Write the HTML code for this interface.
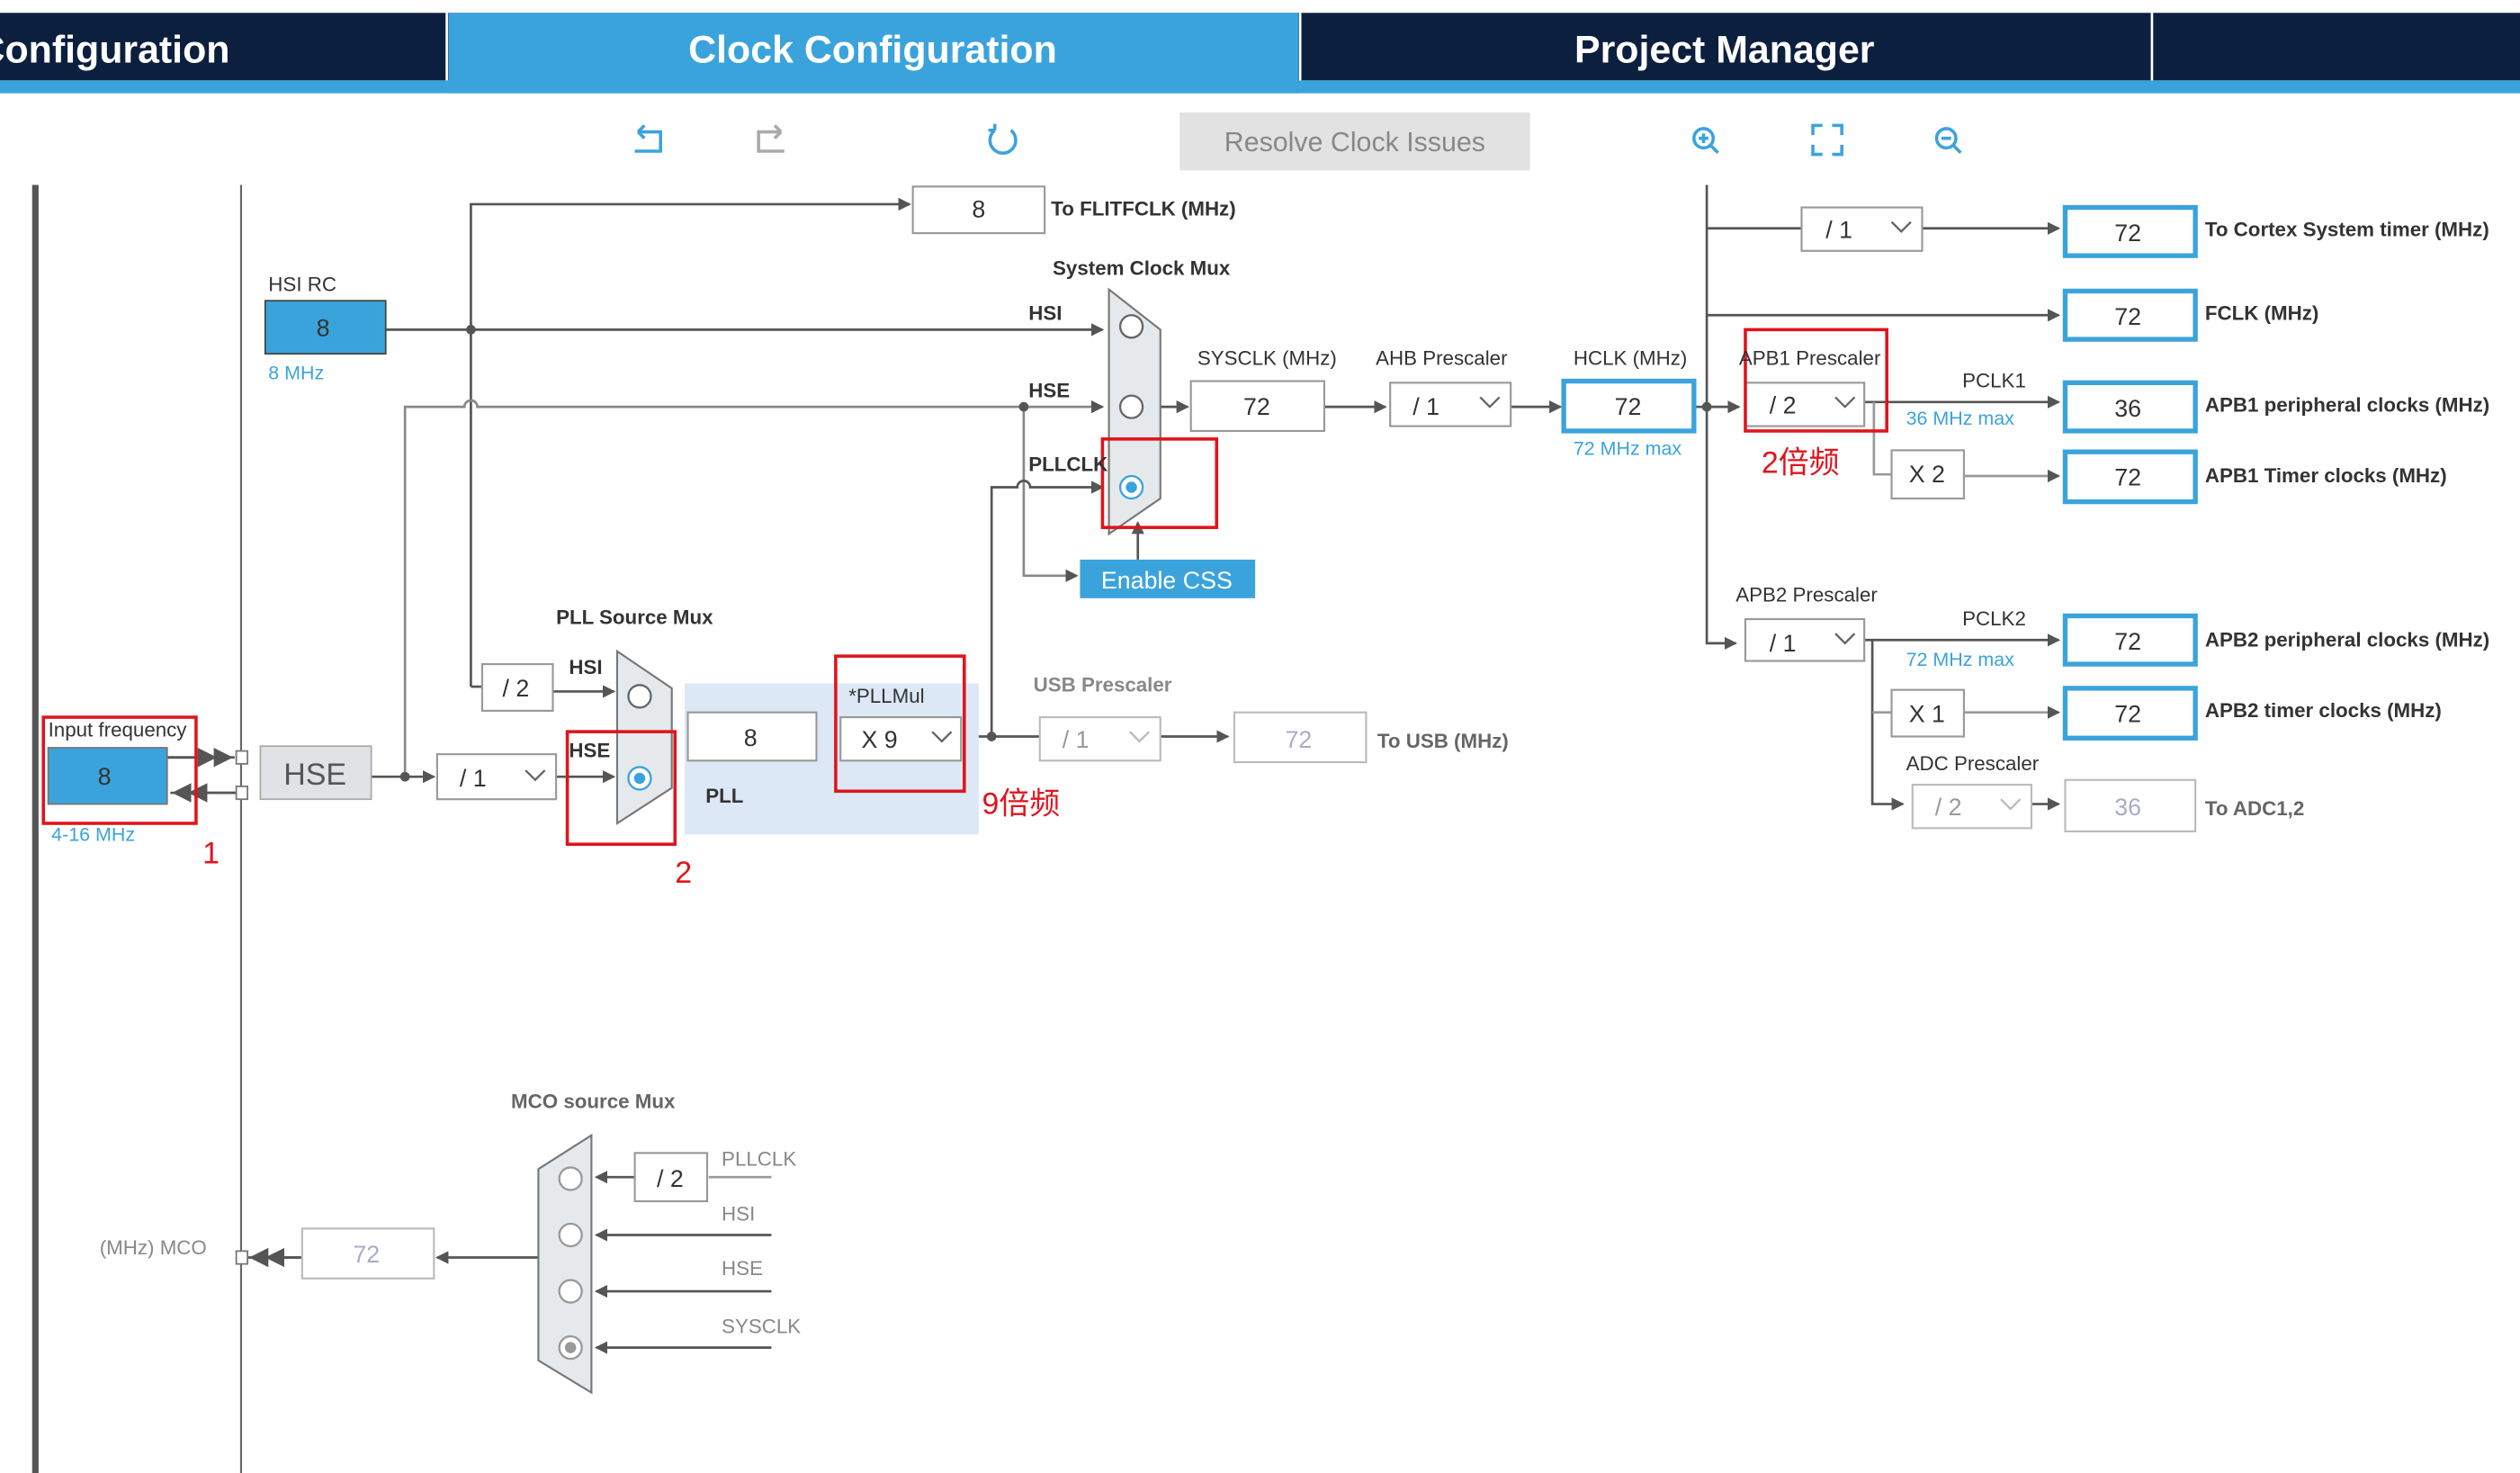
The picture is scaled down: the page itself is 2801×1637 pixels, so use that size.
<!DOCTYPE html>
<html><head><meta charset="utf-8"><style>
html,body{margin:0;padding:0;background:#fff;width:2801px;height:1637px;overflow:hidden}
svg{display:block}
text{font-family:"Liberation Sans","Noto Sans CJK SC",sans-serif}
</style></head><body>
<svg width="2801" height="1637" viewBox="0 0 1568 916" preserveAspectRatio="none" xmlns="http://www.w3.org/2000/svg">
<defs>
<marker id="a" markerWidth="8" markerHeight="8" refX="7" refY="4" orient="auto" markerUnits="userSpaceOnUse"><path d="M0,0 L8,4 L0,8z" fill="#555"/></marker>
<marker id="b" markerWidth="14" markerHeight="12" refX="13" refY="6" orient="auto" markerUnits="userSpaceOnUse"><path d="M0,0 L12,6 L0,12z" fill="#555"/></marker>
</defs>
<rect x="0" y="8" width="1568" height="42" fill="#0d1f3f"/>
<rect x="0" y="50" width="1568" height="8" fill="#3ba3dc"/>
<rect x="279" y="8" width="529" height="50" fill="#3ba3dc"/>
<line x1="278" y1="8" x2="278" y2="50" stroke="#fff" stroke-width="1.5"/>
<line x1="809" y1="8" x2="809" y2="50" stroke="#fff" stroke-width="1.5"/>
<line x1="1339" y1="8" x2="1339" y2="50" stroke="#fff" stroke-width="1.5"/>
<text x="143" y="39" text-anchor="end" font-size="24" font-weight="bold" fill="#fff">Configuration</text>
<text x="543" y="39" text-anchor="middle" font-size="24" font-weight="bold" fill="#fff">Clock Configuration</text>
<text x="1073" y="39" text-anchor="middle" font-size="24" font-weight="bold" fill="#fff">Project Manager</text>
<g stroke="#3ba3dc" stroke-width="2" fill="none">
<path d="M397,82 h14 v12 h-16 M397,82 l4,-4 M397,82 l4,4"/>
<path d="M486,82 h-14 v12 h16 M486,82 l-4,-4 M486,82 l-4,4" stroke="#aaa"/>
<path d="M619,81 a8,8 0 1 0 10,0 M619,81 v-4 M619,81 h-4"/>
<circle cx="1060" cy="86" r="6"/><path d="M1064,90 l5,5 M1057,86 h6 M1060,83 v6"/>
<path d="M1128,84 v-6 h6 M1140,78 h6 v6 M1146,90 v6 h-6 M1134,96 h-6 v-6"/>
<circle cx="1211" cy="86" r="6"/><path d="M1215,90 l5,5 M1208,86 h6"/>
</g>
<rect x="734" y="70" width="218" height="36" fill="#e2e2e2"/>
<text x="843" y="94" text-anchor="middle" font-size="17" fill="#888">Resolve Clock Issues</text>
<rect x="20" y="115" width="4" height="801" fill="#555"/>
<line x1="150" y1="115" x2="150" y2="916" stroke="#666" stroke-width="1.2"/>

<g stroke="#555" stroke-width="1.5" fill="none">
<path d="M293,427 V127 H566" marker-end="url(#a)"/>
<path d="M240,205 H686" marker-end="url(#a)"/>
<path d="M252,483 V253 H289 a4,4 0 0 1 8,0 H686" marker-end="url(#a)" stroke="#888"/>
<path d="M637,253 V358 H670" marker-end="url(#a)" stroke="#888"/>
<path d="M617,458 V303 H633 a4,4 0 0 1 8,0 H686" marker-end="url(#a)"/>
<path d="M708,348 V325" marker-end="url(#a)"/>
<path d="M722,253 H739" marker-end="url(#a)"/>
<path d="M824,253 H862" marker-end="url(#a)"/>
<path d="M940,253 H971" marker-end="url(#a)"/>
<path d="M1054,253 H1062"/>
<path d="M1062,115 V400 H1080" marker-end="url(#a)"/>
<path d="M1062,253 H1082" marker-end="url(#a)"/>
<path d="M1062,142 H1121"/>
<path d="M1196,142 H1281" marker-end="url(#a)"/>
<path d="M1062,196 H1281" marker-end="url(#a)"/>
<path d="M1160,250 H1281" marker-end="url(#a)"/>
<path d="M1166,250 V295 H1177" stroke="#999"/>
<path d="M1222,296 H1281" marker-end="url(#a)" stroke="#999"/>
<path d="M1160,398 H1281" marker-end="url(#a)"/>
<path d="M1165,398 V500 H1184" marker-end="url(#a)"/>
<path d="M1165,443 H1177" stroke="#999"/>
<path d="M1222,443 H1281" marker-end="url(#a)" stroke="#999"/>
<path d="M1264,500 H1281" marker-end="url(#a)"/>
<path d="M104,471 H146" marker-end="url(#b)"/>
<path d="M104,471 H136" marker-end="url(#b)"/>
<path d="M150,493 H106" marker-end="url(#b)"/>
<path d="M150,493 H116" marker-end="url(#b)"/>
<path d="M231,483 H270" marker-end="url(#a)"/>
<path d="M346,483 H382" marker-end="url(#a)"/>
<path d="M293,427 H300"/>
<path d="M344,430 H382" marker-end="url(#a)"/>
<path d="M508,458 H523"/>
<path d="M598,458 H647"/>
<path d="M722,458 H764" marker-end="url(#a)"/>
<path d="M480,732 H441" stroke="#999"/>
<path d="M395,732 H371" marker-end="url(#a)"/>
<path d="M480,768 H371" marker-end="url(#a)"/>
<path d="M480,803 H371" marker-end="url(#a)"/>
<path d="M480,838 H371" marker-end="url(#a)"/>
<path d="M335,782 H272" marker-end="url(#a)"/>
<path d="M188,782 H154" marker-end="url(#b)"/>
<path d="M188,782 H164" marker-end="url(#b)"/>
</g>
<g fill="#555">
<circle cx="293" cy="205" r="3"/><circle cx="637" cy="253" r="3"/><circle cx="617" cy="458" r="3"/>
<circle cx="1062" cy="253" r="3"/><circle cx="252" cy="483" r="3"/>
</g>
<g fill="#fff" stroke="#777">
<rect x="147" y="467" width="7" height="8"/><rect x="147" y="489" width="7" height="8"/><rect x="147" y="778" width="7" height="8"/>
</g>

<g fill="#fff" stroke="#999" stroke-width="1.2">
<rect x="568" y="116" width="82" height="29"/>
<rect x="741" y="237" width="83" height="31"/>
<rect x="865" y="238" width="75" height="27"/>
<rect x="1121" y="129" width="75" height="27"/>
<rect x="1086" y="238" width="74" height="27"/>
<rect x="1177" y="280" width="45" height="30"/>
<rect x="1086" y="385" width="74" height="26"/>
<rect x="1177" y="429" width="45" height="29"/>
<rect x="1190" y="488" width="74" height="27" stroke="#bbb"/>
<rect x="1285" y="485" width="81" height="32" stroke="#bbb"/>
<rect x="272" y="469" width="74" height="28"/>
<rect x="300" y="413" width="44" height="29"/>
<rect x="647" y="446" width="75" height="27" stroke="#bbb"/>
<rect x="768" y="443" width="82" height="31" stroke="#bbb"/>
<rect x="395" y="717" width="45" height="30"/>
<rect x="188" y="764" width="82" height="31" stroke="#bbb"/>
</g>
<rect x="426" y="425" width="183" height="94" fill="#dce8f5"/>
<g fill="#fff" stroke="#999" stroke-width="1.2">
<rect x="428" y="443" width="80" height="30"/>
<rect x="523" y="446" width="75" height="27"/>
</g>
<g fill="#fff" stroke="#3ba3dc" stroke-width="3">
<rect x="973" y="237" width="81" height="31"/>
<rect x="1285" y="129" width="81" height="30"/>
<rect x="1285" y="181" width="81" height="30"/>
<rect x="1285" y="238" width="81" height="30"/>
<rect x="1285" y="281" width="81" height="31"/>
<rect x="1285" y="383" width="81" height="30"/>
<rect x="1285" y="428" width="81" height="31"/>
</g>
<rect x="165" y="187" width="75" height="33" fill="#3ba3dc" stroke="#444" stroke-width="1"/>
<rect x="30" y="465" width="74" height="35" fill="#3ba3dc" stroke="#777" stroke-width="1"/>
<rect x="162" y="464" width="69" height="33" fill="#e0e2e5" stroke="#aaa"/>
<rect x="672" y="348" width="109" height="24" fill="#3ba3dc"/>
<g fill="#e6e9ec" stroke="#777" stroke-width="1.2">
<path d="M690,180 L722,205 L722,310 L690,332 Z"/>
<path d="M384,405 L418,428 L418,490 L384,512 Z"/>
<path d="M368,706 L368,866 L335,846 L335,727 Z"/>
</g>
<g fill="#fff" stroke="#666" stroke-width="1.3">
<circle cx="704" cy="203" r="7"/><circle cx="704" cy="253" r="7"/><circle cx="704" cy="303" r="7" stroke="#3ba3dc"/>
<circle cx="398" cy="433" r="7"/><circle cx="398" cy="484" r="7" stroke="#3ba3dc"/>
<circle cx="355" cy="733" r="7" stroke="#999"/><circle cx="355" cy="768" r="7" stroke="#999"/><circle cx="355" cy="803" r="7" stroke="#999"/><circle cx="355" cy="838" r="7" stroke="#999"/>
</g>
<circle cx="704" cy="303" r="3.5" fill="#3ba3dc"/><circle cx="398" cy="484" r="3.5" fill="#3ba3dc"/><circle cx="355" cy="838" r="3.5" fill="#999"/>

<g stroke="#666" stroke-width="1.3" fill="none">
<path d="M921,247 l6,6 l6,-6"/><path d="M1177,138 l6,6 l6,-6"/><path d="M1142,247 l6,6 l6,-6"/>
<path d="M1142,394 l6,6 l6,-6"/><path d="M327,479 l6,6 l6,-6"/><path d="M580,455 l6,6 l6,-6"/>
<path d="M1245,497 l6,6 l6,-6" stroke="#bbb"/><path d="M703,455 l6,6 l6,-6" stroke="#bbb"/>
</g>

<g fill="none" stroke="#e0141c" stroke-width="2">
<rect x="686" y="273" width="71" height="55"/>
<rect x="1086" y="205" width="88" height="63"/>
<rect x="27" y="446" width="95" height="66"/>
<rect x="353" y="455" width="67" height="70"/>
<rect x="520" y="408" width="80" height="84"/>
</g>

<g font-size="15" fill="#333" text-anchor="middle">
<text x="609" y="135">8</text><text x="782" y="258">72</text><text x="1013" y="258">72</text>
<text x="1324" y="150">72</text><text x="1324" y="202">72</text><text x="1324" y="259">36</text>
<text x="1324" y="302">72</text><text x="1324" y="404">72</text><text x="1324" y="449">72</text>
<text x="1324" y="507" fill="#aac">36</text><text x="808" y="465" fill="#aac">72</text><text x="228" y="785" fill="#aac">72</text>
<text x="201" y="209">8</text><text x="65" y="488">8</text><text x="467" y="464">8</text>
<text x="196" y="488" font-size="19" fill="#555">HSE</text>
<text x="1199" y="300">X 2</text><text x="1199" y="449">X 1</text>
<text x="321" y="433">/ 2</text><text x="417" y="738">/ 2</text>
<text x="726" y="366" fill="#fff">Enable CSS</text>
</g>
<g font-size="15" fill="#333">
<text x="879" y="258">/ 1</text><text x="1136" y="148">/ 1</text><text x="1101" y="257">/ 2</text>
<text x="1101" y="405">/ 1</text><text x="286" y="489">/ 1</text><text x="536" y="465">X 9</text>
<text x="1204" y="507" fill="#999">/ 2</text><text x="661" y="465" fill="#999">/ 1</text>
</g>
<g font-size="12.5" fill="#333">
<text x="654" y="134" font-weight="bold">To FLITFCLK (MHz)</text>
<text x="655" y="171" font-weight="bold">System Clock Mux</text>
<text x="167" y="181">HSI RC</text>
<text x="640" y="199" font-weight="bold">HSI</text><text x="640" y="247" font-weight="bold">HSE</text>
<text x="640" y="293" font-weight="bold">PLLCLK</text>
<text x="745" y="227">SYSCLK (MHz)</text><text x="856" y="227">AHB Prescaler</text>
<text x="979" y="227">HCLK (MHz)</text><text x="1082" y="227">APB1 Prescaler</text>
<text x="1221" y="241">PCLK1</text><text x="1221" y="389">PCLK2</text>
<text x="1080" y="374">APB2 Prescaler</text><text x="1186" y="479">ADC Prescaler</text>
<text x="1372" y="147" font-weight="bold">To Cortex System timer (MHz)</text>
<text x="1372" y="199" font-weight="bold">FCLK (MHz)</text>
<text x="1372" y="256" font-weight="bold">APB1 peripheral clocks (MHz)</text>
<text x="1372" y="300" font-weight="bold">APB1 Timer clocks (MHz)</text>
<text x="1372" y="402" font-weight="bold">APB2 peripheral clocks (MHz)</text>
<text x="1372" y="446" font-weight="bold">APB2 timer clocks (MHz)</text>
<text x="1372" y="507" font-weight="bold" fill="#666">To ADC1,2</text>
<text x="857" y="465" font-weight="bold" fill="#666">To USB (MHz)</text>
<text x="643" y="430" fill="#888" font-weight="bold">USB Prescaler</text>
<text x="346" y="388" font-weight="bold">PLL Source Mux</text>
<text x="354" y="419" font-weight="bold">HSI</text><text x="354" y="471" font-weight="bold">HSE</text>
<text x="528" y="437">*PLLMul</text><text x="439" y="499" font-weight="bold">PLL</text>
<text x="30" y="458">Input frequency</text>
<text x="318" y="689" fill="#666" font-weight="bold">MCO source Mux</text>
<text x="449" y="725" fill="#888">PLLCLK</text><text x="449" y="759" fill="#888">HSI</text>
<text x="449" y="793" fill="#888">HSE</text><text x="449" y="829" fill="#888">SYSCLK</text>
<text x="62" y="780" fill="#888">(MHz) MCO</text>
</g>
<g font-size="12" fill="#3ba3dc">
<text x="167" y="236">8 MHz</text><text x="32" y="523">4-16 MHz</text>
<text x="979" y="283">72 MHz max</text><text x="1186" y="264">36 MHz max</text><text x="1186" y="414">72 MHz max</text>
</g>
<g font-size="19" fill="#e0141c">
<text x="1096" y="294">2倍频</text><text x="611" y="506">9倍频</text>
<text x="126" y="537">1</text><text x="420" y="549">2</text>
</g>
</svg>
</body></html>
